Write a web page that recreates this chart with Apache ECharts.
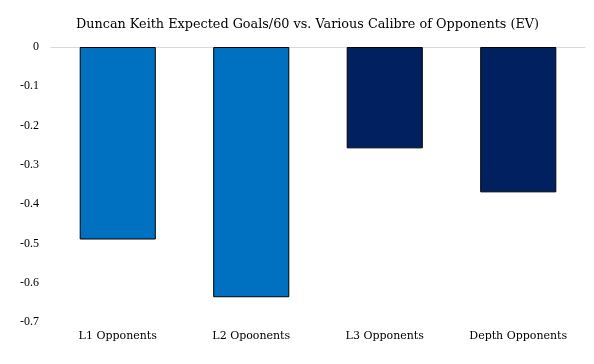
<!DOCTYPE html>
<html><head><meta charset="utf-8">
<script src="https://cdn.jsdelivr.net/npm/echarts@6/dist/echarts.min.js"></script>
<style>html,body{margin:0;padding:0;background:#fff}#c{width:594px;height:364px}</style>
</head><body><div id="c"></div>
<script>
const categories = ['L1 Opponents', 'L2 Opoonents', 'L3 Opponents', 'Depth Opponents'];
const values = [-0.49, -0.637, -0.258, -0.37];
const barColors = ['#0070C0', '#0070C0', '#002060', '#002060'];
const font = 'Liberation Serif';
const font2 = 'DejaVu Serif';
const chart = echarts.init(document.getElementById('c'));
chart.setOption({
  animation: false,
  backgroundColor: '#fff',
  title: {
    text: 'Duncan Keith Expected Goals/60 vs. Various Calibre of Opponents (EV)',
    left: 71, top: 13,
    textStyle: { fontFamily: font2, fontSize: 12.8, fontWeight: 'normal', color: '#000' }
  },
  grid: { left: 51, right: 9, top: 47, bottom: 42 },
  xAxis: [{
    type: 'category', data: categories, position: 'top',
    axisLine: { show: true, lineStyle: { color: '#d9d9d9' } },
    axisTick: { show: false },
    axisLabel: { show: false }
  }, {
    type: 'category', data: categories, position: 'bottom',
    axisLine: { show: false }, axisTick: { show: false },
    axisLabel: { fontFamily: font2, fontSize: 11, color: '#000', margin: 9 }
  }],
  yAxis: {
    type: 'value', min: -0.7, max: 0, interval: 0.1,
    axisLine: { show: false }, axisTick: { show: false },
    splitLine: { show: false },
    axisLabel: { fontFamily: font, fontSize: 12, color: '#000', margin: 12,
      formatter: v => (Math.round(v * 10) / 10).toString() }
  },
  series: [{
    type: 'bar',
    data: values.map((v, i) => ({ value: v, itemStyle: { color: barColors[i] } })),
    barCategoryGap: '43%',
    itemStyle: { borderColor: '#000', borderWidth: 1 }
  }]
});
</script></body></html>
